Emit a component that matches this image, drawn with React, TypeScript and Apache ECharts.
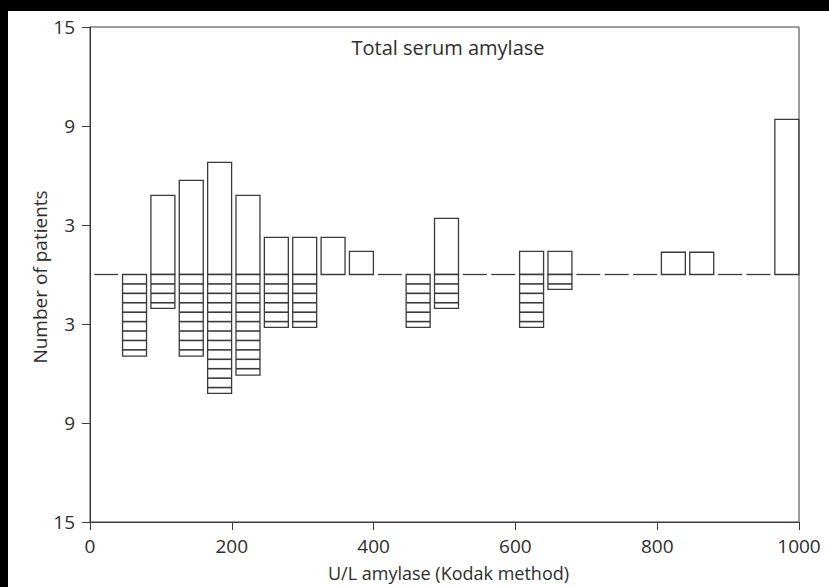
import React, { useEffect, useRef } from "react";
import * as echarts from "echarts";

// Bin centres (U/L amylase, bins 40 U/L wide)
const binCenters = [20, 60, 100, 140, 180, 220, 260, 300, 340, 380, 420, 460, 500, 540, 580, 620, 660, 700, 740, 780, 820, 860, 900, 940, 980];
// Bars above the zero line (open bars)
const aboveValues = [0, 0, 4.8, 5.7, 6.8, 4.8, 2.25, 2.25, 2.25, 1.4, 0, 0, 3.4, 0, 0, 1.4, 1.4, 0, 0, 0, 1.35, 1.35, 0, 0, 9.4];
// Bars below the zero line (hatched bars)
const belowValues = [0, 4.95, 2.05, 4.95, 7.2, 6.1, 3.2, 3.2, 0, 0, 0, 3.2, 2.05, 0, 0, 3.2, 0.9, 0, 0, 0, 0, 0, 0, 0, 0];

const yTicks = [-15, -9, -3, 3, 9, 15];
const xTicks = [0, 200, 400, 600, 800, 1000];

const FONT = "'Open Sans', 'DejaVu Sans', sans-serif";
const INK = "#3a3a3a";
const TEXT = "#2e2e2e";

export default function App() {
  const ref = useRef<HTMLDivElement>(null);

  useEffect(() => {
    if (!ref.current) return;
    const chart = echarts.init(ref.current, undefined, { renderer: "svg" });
    const data = binCenters.map((c, i) => [c, aboveValues[i], belowValues[i]]);
    const BIN = 40;
    const STRIPE = 0.571;

    chart.setOption({
      animation: false,
      backgroundColor: "#ffffff",
      grid: {
        left: 82,
        right: 30,
        top: 16,
        bottom: 63,
        show: true,
        borderColor: INK,
        borderWidth: 1,
      },
      graphic: [
        {
          type: "text",
          x: 440,
          y: 36,
          style: {
            text: "Total serum amylase",
            font: `20px ${FONT}`,
            fill: TEXT,
            textAlign: "center",
            textVerticalAlign: "middle",
          },
        },
        {
          type: "text",
          x: 32,
          y: 266,
          rotation: Math.PI / 2,
          style: {
            text: "Number of patients",
            font: `19px ${FONT}`,
            fill: TEXT,
            textAlign: "center",
            textVerticalAlign: "middle",
          },
        },
      ],
      xAxis: {
        type: "value",
        min: xTicks[0],
        max: xTicks[xTicks.length - 1],
        interval: 200,
        name: "U/L amylase (Kodak method)",
        nameLocation: "middle",
        nameGap: 42,
        nameTextStyle: { fontFamily: FONT, fontSize: 18, color: TEXT, padding: [0, 0, 0, 8] },
        axisLine: { onZero: false, lineStyle: { color: INK, width: 1 } },
        axisTick: { show: true, length: 8, lineStyle: { color: INK } },
        axisLabel: {
          fontFamily: FONT,
          fontSize: 19,
          color: TEXT,
          margin: 14,
          formatter: (v: number) => String(v),
        },
        splitLine: { show: false },
      },
      yAxis: {
        type: "value",
        min: yTicks[0],
        max: yTicks[yTicks.length - 1],
        interval: 6,
        axisLine: { onZero: false, lineStyle: { color: INK, width: 1 } },
        axisTick: { show: true, length: 8, lineStyle: { color: INK } },
        axisLabel: {
          fontFamily: FONT,
          fontSize: 19,
          color: TEXT,
          margin: 15,
          formatter: (v: number) => String(Math.abs(v)),
        },
        splitLine: { show: false },
      },
      series: [
        {
          type: "custom",
          clip: false,
          data,
          encode: { x: 0, y: [1, 2] },
          renderItem: (params: any, api: any) => {
            const c = api.value(0);
            const up = api.value(1);
            const down = api.value(2);
            const w = api.size([BIN, 0])[0] * 0.845;
            const center = api.coord([c, 0]);
            const x0 = center[0] - w / 2 + 2;
            const y0 = center[1];
            const style = { fill: "#ffffff", stroke: INK, lineWidth: 1.3 };
            const children: any[] = [];
            if (up > 0) {
              const yTop = api.coord([c, up])[1];
              children.push({
                type: "rect",
                shape: { x: x0, y: yTop, width: w, height: y0 - yTop },
                style,
              });
            }
            if (down > 0) {
              const yBot = api.coord([c, -down])[1];
              children.push({
                type: "rect",
                shape: { x: x0, y: y0, width: w, height: yBot - y0 },
                style,
              });
              const step = api.size([0, STRIPE])[1];
              for (let k = 1; y0 + k * step < yBot - 2; k++) {
                const yy = y0 + k * step;
                children.push({
                  type: "line",
                  shape: { x1: x0, y1: yy, x2: x0 + w, y2: yy },
                  style: { stroke: INK, lineWidth: 1.6 },
                });
              }
            }
            if (up <= 0 && down <= 0) {
              children.push({
                type: "line",
                shape: { x1: x0, y1: y0, x2: x0 + w, y2: y0 },
                style: { stroke: INK, lineWidth: 1.3 },
              });
            }
            return { type: "group", children };
          },
        },
      ],
    });

    return () => chart.dispose();
  }, []);

  return (
    <div
      style={{
        position: "fixed",
        left: 0,
        top: 0,
        width: 829,
        height: 587,
        background: "#000000",
      }}
    >
      <div
        ref={ref}
        style={{
          position: "absolute",
          left: 8,
          top: 11,
          width: 821,
          height: 576,
          background: "#ffffff",
        }}
      />
    </div>
  );
}
